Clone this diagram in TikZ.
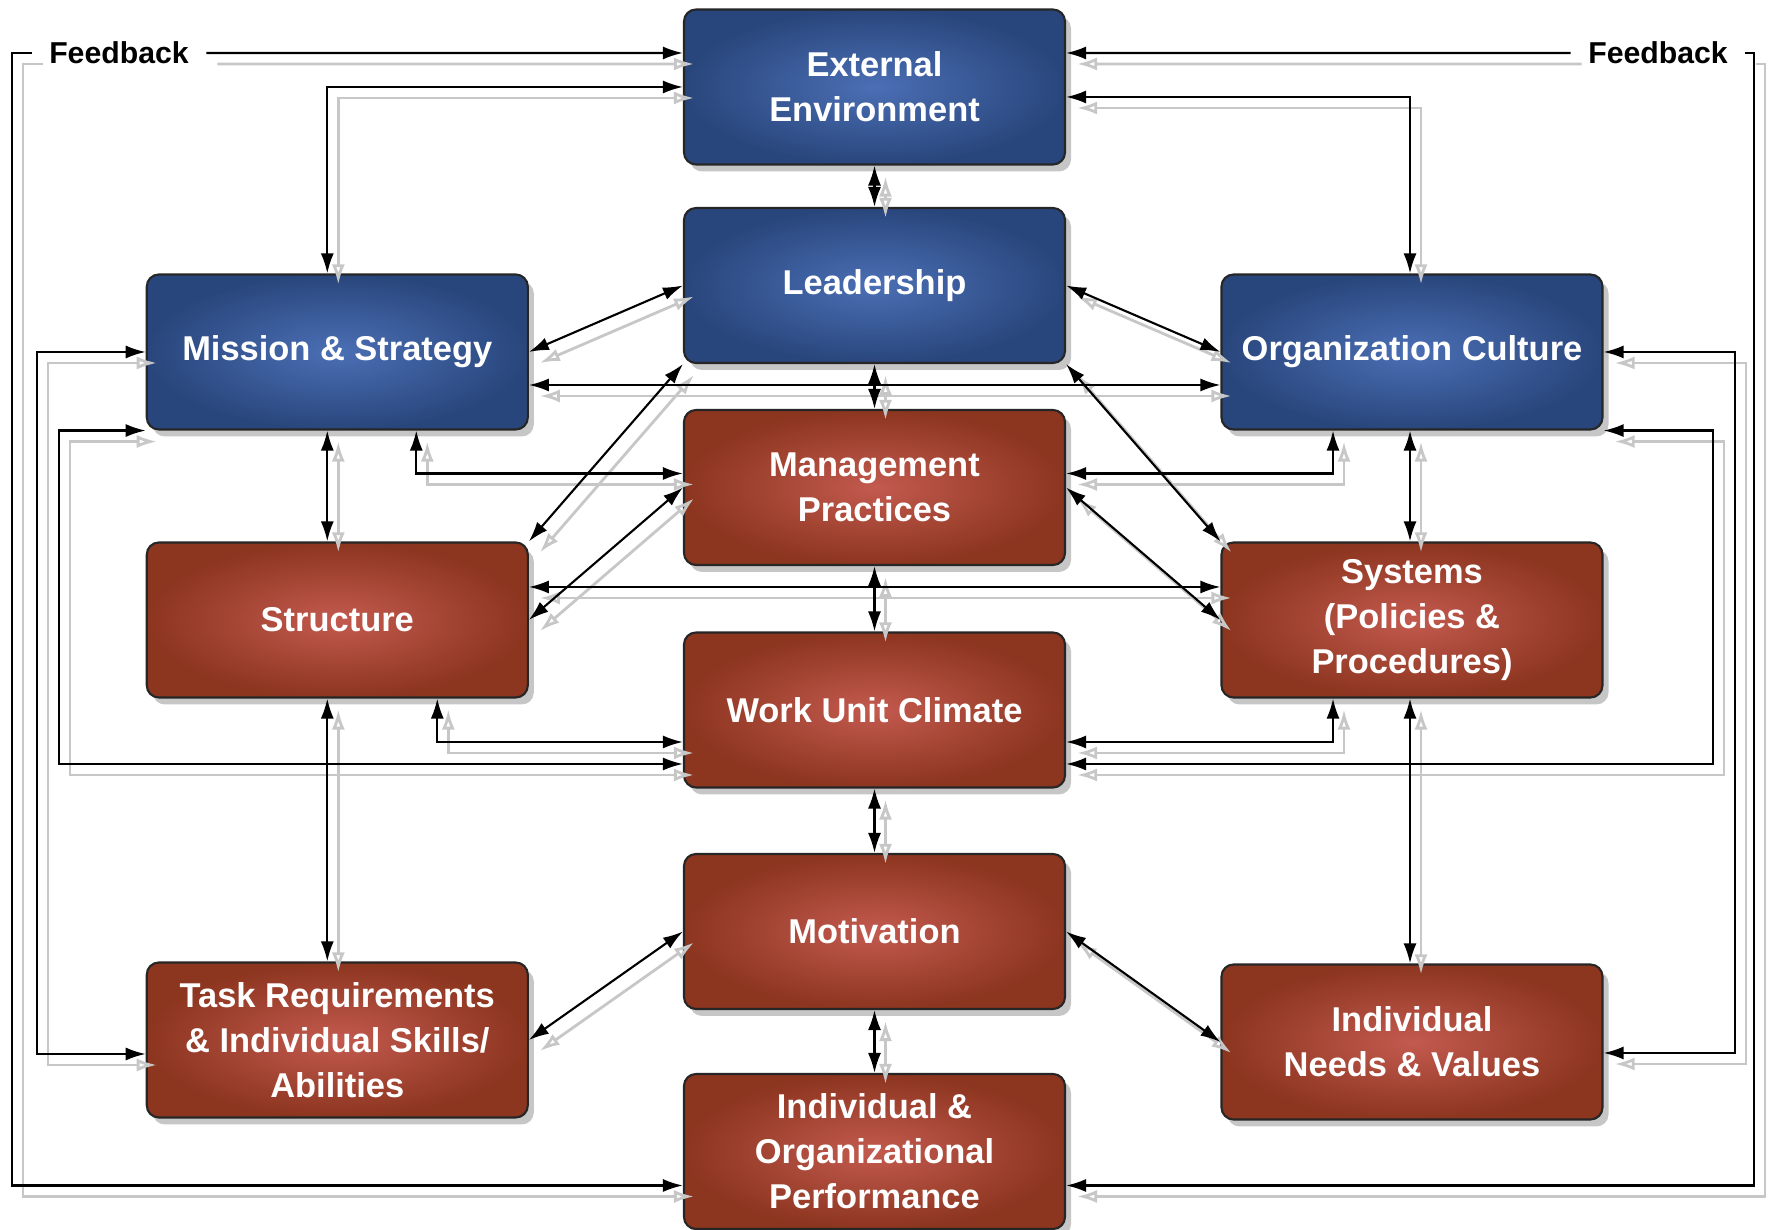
\documentclass[tikz,border=0pt]{standalone}
\usepackage{fontspec}
\setmainfont{Liberation Sans}
\usetikzlibrary{arrows.meta,calc,shadows}

\definecolor{bluein}{HTML}{4B6FB5}
\definecolor{blueout}{HTML}{29467C}
\definecolor{redin}{HTML}{C35A4F}
\definecolor{redout}{HTML}{8C351F}

\tikzset{
  box/.style={rectangle, rounded corners=0.12cm, draw=black!85, line width=0.6pt,
    minimum width=3.81cm, minimum height=1.55cm, inner sep=2pt, align=center, text=white,
    font=\fontsize{9.8}{12.8}\selectfont\bfseries,
    drop shadow={shadow xshift=0.06cm, shadow yshift=-0.07cm, opacity=0.45}},
  bluebox/.style={box, inner color=bluein, outer color=blueout},
  redbox/.style={box, inner color=redin, outer color=redout},
  fblabel/.style={font=\fontsize{8.6}{10}\selectfont\bfseries, inner xsep=0.17cm, inner ysep=0pt},
  link/.style={draw=black, line width=0.6pt,
    {Latex[length=0.2cm,width=0.13cm]}-{Latex[length=0.2cm,width=0.13cm]}},
  fblink/.style={draw=black, line width=0.6pt, -{Latex[length=0.2cm,width=0.13cm]}},
}

% all connectors, drawn twice (grey shade first, then black)
\newcommand\burkelinks{%
  % feedback loops
  \draw[fblink] (fbl.west) -- (fbl.west -| railL) |- ($(perf.west)+(0,-0.34)$);
  \draw[fblink] (fbl.east) -- ($(ee.west)+(0,0.34)$);
  \draw[fblink] (fbr.east) -- (fbr.east -| railR) |- ($(perf.east)+(0,-0.34)$);
  \draw[fblink] (fbr.west) -- ($(ee.east)+(0,0.34)$);
  % external environment
  \draw[link] (ee.west) -| ($(ms.north)+(-0.1,0)$);
  \draw[link] ($(ee.east)+(0,-0.1)$) -| ($(oc.north)+(-0.02,0)$);
  \draw[link] (ee.south) -- (lead.north);
  % leadership
  \draw[link] (lead.west) -- (ms.east);
  \draw[link] (lead.east) -- (oc.west);
  \draw[link] (lead.south) -- (mp.north);
  \draw[link] (lead.south west) -- (st.north east);
  \draw[link] (lead.south east) -- (sys.north west);
  % mission & strategy, culture
  \draw[link] ($(ms.east)+(0,-0.33)$) -- ($(oc.west)+(0,-0.33)$);
  \draw[link] ($(mp.west)+(0,0.14)$) -| ($(ms.south)+(0.79,0)$);
  \draw[link] ($(mp.east)+(0,0.14)$) -| ($(oc.south)+(-0.79,0)$);
  \draw[link] ($(ms.south)+(-0.1,0)$) -- ($(st.north)+(-0.1,0)$);
  \draw[link] ($(oc.south)+(-0.02,0)$) -- ($(sys.north)+(-0.02,0)$);
  \draw[link] (ms.south west) -- (ms.south west -| railWL) |- ($(wuc.west)+(0,-0.54)$);
  \draw[link] (oc.south east) -- (oc.south east -| railWR) |- ($(wuc.east)+(0,-0.54)$);
  \draw[link] (ms.west) -- (ms.west -| railTL) |- ($(tr.west)+(0,-0.14)$);
  \draw[link] (oc.east) -- (oc.east -| railTR) |- ($(ind.east)+(0,-0.11)$);
  % management practices
  \draw[link] (mp.west) -- (st.east);
  \draw[link] (mp.east) -- (sys.west);
  \draw[link] (mp.south) -- (wuc.north);
  % structure, systems
  \draw[link] ($(st.east)+(0,0.33)$) -- ($(sys.west)+(0,0.33)$);
  \draw[link] ($(wuc.west)+(0,-0.32)$) -| ($(st.south)+(1.0,0)$);
  \draw[link] ($(wuc.east)+(0,-0.32)$) -| ($(sys.south)+(-0.79,0)$);
  \draw[link] ($(st.south)+(-0.1,0)$) -- ($(tr.north)+(-0.1,0)$);
  \draw[link] ($(sys.south)+(-0.02,0)$) -- ($(ind.north)+(-0.02,0)$);
  % climate, motivation
  \draw[link] (wuc.south) -- (mot.north);
  \draw[link] (mot.west) -- (tr.east);
  \draw[link] (mot.east) -- (ind.west);
  \draw[link] (mot.south) -- (perf.north);
}

\begin{document}
\begin{tikzpicture}
\useasboundingbox (0,0) rectangle (17.69,12.30);
% outer rails
\coordinate (railL) at (0.12,0);
\coordinate (railTL) at (0.37,0);
\coordinate (railWL) at (0.59,0);
\coordinate (railWR) at (17.13,0);
\coordinate (railTR) at (17.35,0);
\coordinate (railR) at (17.54,0);

% boxes
\node[bluebox] (ee) at (8.745,11.43) {External\\Environment};
\node[bluebox] (lead) at (8.745,9.445) {Leadership};
\node[bluebox] (ms) at (3.373,8.78) {Mission \& Strategy};
\node[bluebox] (oc) at (14.12,8.78) {Organization Culture};
\node[redbox] (mp) at (8.745,7.425) {Management\\Practices};
\node[redbox] (st) at (3.373,6.10) {Structure};
\node[redbox] (sys) at (14.12,6.10) {Systems\\(Policies \&\\Procedures)};
\node[redbox] (wuc) at (8.745,5.20) {Work Unit Climate};
\node[redbox] (mot) at (8.745,2.985) {Motivation};
\node[redbox] (tr) at (3.373,1.90) {Task Requirements\\\& Individual Skills/\\Abilities};
\node[redbox] (ind) at (14.12,1.88) {Individual\\Needs \& Values};
\node[redbox] (perf) at (8.745,0.785) {Individual \&\\Organizational\\Performance};

\node[fblabel] (fbl) at (1.19,11.77) {Feedback};
\node[fblabel] (fbr) at (16.58,11.77) {Feedback};

% connectors
\begin{scope}[transform canvas={shift={(0.11,-0.11)}},
  link/.style={draw=black!22, line width=0.8pt,
    {Latex[open,length=0.2cm,width=0.13cm]}-{Latex[open,length=0.2cm,width=0.13cm]}},
  fblink/.style={draw=black!22, line width=0.8pt, -{Latex[open,length=0.2cm,width=0.13cm]}}]
\burkelinks
\end{scope}
\burkelinks
\end{tikzpicture}
\end{document}
